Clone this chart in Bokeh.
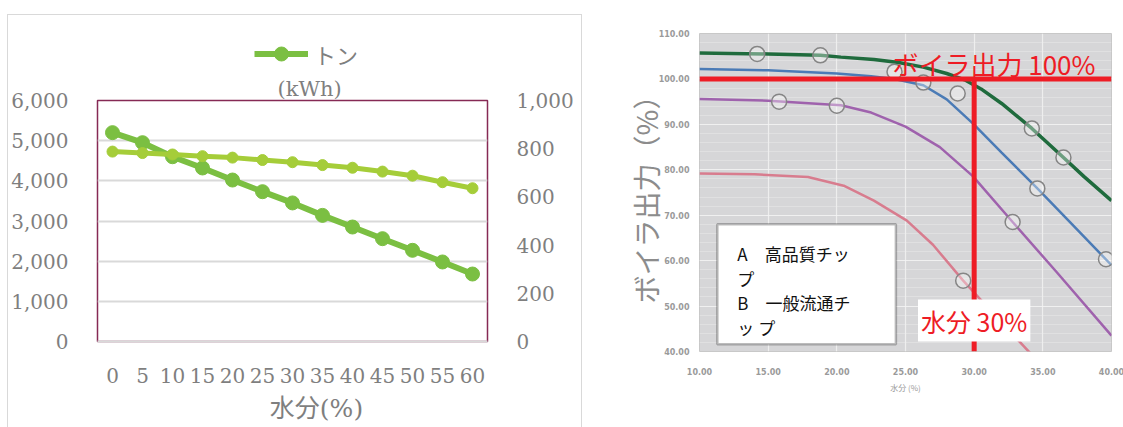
from bokeh.embed import file_html
from bokeh.layouts import column, row
from bokeh.models import (BoxAnnotation, FactorRange, FixedTicker, Label, Legend,
                          LegendItem, LinearAxis, NumeralTickFormatter,
                          PrintfTickFormatter, Range1d, Span, Title)
from bokeh.plotting import figure
from bokeh.resources import INLINE

# ---------------- left chart: values against moisture content ----------------
moisture_pct = ["0", "5", "10", "15", "20", "25", "30", "35", "40", "45", "50", "55", "60"]
series_left = [5200, 4950, 4600, 4320, 4020, 3730, 3450, 3140, 2850, 2560, 2270, 1980, 1680]
series_right = [788, 782, 776, 769, 763, 753, 744, 732, 721, 705, 688, 661, 636]
left_axis_ticks = [0, 1000, 2000, 3000, 4000, 5000, 6000]
right_axis_ticks = [0, 200, 400, 600, 800, 1000]
legend_label = "トン"
left_axis_unit = "(kWh)"
left_x_title = "水分(%)"

# ---------------- right chart: boiler output against moisture ----------------
green_x = [10, 15, 18.8, 20.3, 22.7, 24.5, 26.3, 28, 29.3, 30.5, 32, 34.2, 36.5, 38, 40]
green_y = [105.7, 105.5, 105.2, 104.8, 104.3, 103.6, 102.6, 101.2, 99.8, 97.8, 94.6, 89.1, 82.7, 78.5, 73.2]
blue_x = [10, 15, 20, 22.5, 24.2, 26.3, 28, 29.9, 32, 34.6, 37.1, 40]
blue_y = [102.2, 101.9, 101.2, 100.6, 100.0, 98.6, 95.5, 90.2, 83.8, 75.9, 68.1, 59.0]
purple_x = [10, 15, 20.3, 22.5, 25, 27.5, 29.9, 32.8, 36, 40]
purple_y = [95.6, 95.2, 94.2, 92.6, 89.5, 85.0, 78.6, 68.5, 57.5, 43.5]
pink_x = [10, 14, 17.9, 20.5, 22.7, 25.1, 27, 29.2, 31.5, 34, 35]
pink_y = [79.2, 79.0, 78.4, 76.5, 73.2, 68.8, 63.5, 55.6, 48.0, 39.9, 36.5]

# measured points marked on the curves
green_pts_x = [14.2, 18.8, 34.2, 36.5]
green_pts_y = [105.5, 105.2, 89.1, 82.7]
blue_pts_x = [24.2, 26.3, 28.8, 34.6, 39.6]
blue_pts_y = [101.6, 99.2, 96.8, 75.9, 60.3]
purple_pts_x = [15.8, 20.0, 32.8]
purple_pts_y = [95.0, 94.1, 68.5]
pink_pts_x = [29.2]
pink_pts_y = [55.6]

moisture_ticks = [10, 15, 20, 25, 30, 35, 40]
output_ticks = [40, 50, 60, 70, 80, 90, 100, 110]
output_minor = list(range(40, 111, 2))
rated_output = 100      # boiler output 100 %
target_moisture = 30    # moisture 30 %
output_floor = 40
output_top = 110

key_lines = ["A　高品質チッ", "プ", "B　一般流通チ", "ッ プ"]
rated_label = "ボイラ出力 100%"
moisture_label = "水分 30%"
right_y_title = "ボイラ出力（%）"
right_x_title = "水分 (%)"

GREY = "#7f7f7f"
SERIF = "DejaVu Serif, Noto Sans CJK JP"
SANS_JP = "Noto Sans CJK JP"
DARK_GREEN = "#7bbf42"
LIGHT_GREEN = "#a5cd39"
RED = "#ee1c25"
PANEL_W = 573


def text_strip(height):
    """A bare canvas (no axes, no grid) used for the captions around the left chart."""
    f = figure(width=PANEL_W, height=height, x_range=Range1d(0, 1), y_range=Range1d(0, 1),
               x_axis_type=None, y_axis_type=None, output_backend="svg",
               toolbar_location=None, frame_align=False, min_border=0)
    f.outline_line_color = None
    f.background_fill_color = "white"
    f.border_fill_color = "white"
    f.grid.grid_line_color = None
    return f


# ======================= left chart =======================
header = text_strip(59)
footer = text_strip(41)

main = figure(width=PANEL_W, height=313,
              x_range=FactorRange(*moisture_pct), y_range=Range1d(0, 6000),
              output_backend="svg", toolbar_location=None, frame_align=False,
              min_border_left=88, min_border_right=94, min_border_top=14, min_border_bottom=46)
main.extra_y_ranges = {"ton": Range1d(0, 1000)}
main.background_fill_color = "white"
main.border_fill_color = "white"
main.outline_line_color = "#862a55"
main.outline_line_width = 1.5

# unit caption sits directly on top of the plot area
main.title.text = left_axis_unit
main.title.align = "left"
main.title.offset = 180
main.title.standoff = 0
main.title.text_font = SERIF
main.title.text_font_size = "21px"
main.title.text_font_style = "normal"
main.title.text_color = GREY

main.yaxis.ticker = FixedTicker(ticks=left_axis_ticks)
main.yaxis.formatter = NumeralTickFormatter(format="0,0")
main.add_layout(LinearAxis(y_range_name="ton", ticker=FixedTicker(ticks=right_axis_ticks),
                           formatter=NumeralTickFormatter(format="0,0")), "right")

for ax in main.yaxis:
    ax.axis_line_color = None
    ax.major_tick_line_color = None
    ax.minor_tick_line_color = None
    ax.major_label_text_font = SERIF
    ax.major_label_text_font_size = "20px"
    ax.major_label_text_color = GREY
    ax.major_label_standoff = 23

xa = main.xaxis[0]
xa.axis_line_color = "#d9d9d9"
xa.axis_line_width = 2
xa.major_tick_line_color = None
xa.minor_tick_line_color = None
xa.major_label_text_font = SERIF
xa.major_label_text_font_size = "20px"
xa.major_label_text_color = GREY
xa.major_label_standoff = 20

main.xgrid.grid_line_color = None
main.ygrid.ticker = FixedTicker(ticks=left_axis_ticks)
main.ygrid.grid_line_color = "#d9d9d9"
main.ygrid.grid_line_width = 2

main.line(moisture_pct, series_left, line_width=6, color=DARK_GREEN)
main.scatter(moisture_pct, series_left, size=14, color=DARK_GREEN)
main.line(moisture_pct, series_right, y_range_name="ton", line_width=5, color=LIGHT_GREEN)
main.scatter(moisture_pct, series_right, y_range_name="ton", size=11, color=LIGHT_GREEN)

# legend swatch styled like the darker series (its points lie outside the strip's range)
key_line = header.line(x=[-1, -2], y=[-1, -2], line_width=6, color=DARK_GREEN)
key_dot = header.scatter(x=[-1], y=[-1], size=14, color=DARK_GREEN)
header.add_layout(Legend(items=[LegendItem(label=legend_label, renderers=[key_line, key_dot])],
                         location=(246, 3), orientation="horizontal",
                         border_line_color=None, background_fill_alpha=0,
                         padding=0, margin=0, spacing=0,
                         glyph_width=54, glyph_height=35, label_standoff=6, label_height=20,
                         label_text_font=SANS_JP, label_text_font_size="22px",
                         label_text_color=GREY))
footer.add_layout(Label(x=308, y=20, x_units="screen", y_units="screen", text=left_x_title,
                        text_align="center", text_baseline="middle",
                        text_font=SERIF, text_font_size="25px", text_color=GREY))

left_panel = column(header, main, footer, margin=(14, 0, 0, 7),
                    styles={"border-top": "1px solid #d9d9d9",
                            "border-left": "1px solid #d9d9d9",
                            "border-right": "1px solid #d9d9d9"})

# ======================= right chart =======================
right = figure(width=543, height=427,
               x_range=Range1d(10, 40), y_range=Range1d(output_floor, output_top),
               output_backend="svg", toolbar_location=None, frame_align=False,
               min_border_left=117, min_border_right=14, min_border_top=33, min_border_bottom=76)
right.background_fill_color = "#d6d6d8"
right.border_fill_color = "white"
right.outline_line_color = "#c8c8c8"

right.xaxis.ticker = FixedTicker(ticks=moisture_ticks)
right.yaxis.ticker = FixedTicker(ticks=output_ticks, minor_ticks=output_minor)
for ax in (right.xaxis[0], right.yaxis[0]):
    ax.formatter = PrintfTickFormatter(format="%.2f")
    ax.axis_line_color = None
    ax.major_tick_line_color = None
    ax.minor_tick_line_color = None
    ax.major_label_text_font = "DejaVu Sans"
    ax.major_label_text_font_style = "bold"
    ax.major_label_text_font_size = "8px"
    ax.major_label_text_color = "#9a9a9a"
right.yaxis.major_label_standoff = 4
right.xaxis.major_label_standoff = 10
right.xaxis.axis_label = right_x_title
right.xaxis.axis_label_text_font = SANS_JP
right.xaxis.axis_label_text_font_size = "8px"
right.xaxis.axis_label_text_font_style = "normal"
right.xaxis.axis_label_text_color = "#9a9a9a"
right.xaxis.axis_label_standoff = 4

right.add_layout(Title(text=right_y_title, align="center", offset=-40, standoff=-20,
                       text_font=SANS_JP, text_font_size="28px", text_font_style="normal",
                       text_color="#8c8c8c"), "left")

right.xgrid.grid_line_color = "#f4f4f4"
right.xgrid.grid_line_alpha = 0.8
right.xgrid.grid_line_width = 1.2
right.ygrid.grid_line_color = "#f4f4f4"
right.ygrid.grid_line_alpha = 0.8
right.ygrid.grid_line_width = 1.2
right.ygrid.minor_grid_line_color = "#eeeeee"
right.ygrid.minor_grid_line_alpha = 0.45

right.line(pink_x, pink_y, color="#d87c8e", line_width=2.5)
right.line(purple_x, purple_y, color="#9f62ad", line_width=2.5)
right.line(blue_x, blue_y, color="#4b7bb6", line_width=2.5)
right.line(green_x, green_y, color="#1f6b3d", line_width=3.5)

for xs, ys in ((green_pts_x, green_pts_y), (blue_pts_x, blue_pts_y),
               (purple_pts_x, purple_pts_y), (pink_pts_x, pink_pts_y)):
    right.scatter(xs, ys, size=15, marker="circle", line_color="#858585", line_width=1.5,
                  fill_color="white", fill_alpha=0.35)

right.add_layout(Span(location=rated_output, dimension="width", line_color=RED, line_width=5))
right.segment(x0=[target_moisture], y0=[rated_output], x1=[target_moisture], y1=[output_floor],
              line_color=RED, line_width=5)

# key box for the chip grades, one label per printed line
right.add_layout(BoxAnnotation(left=11.3, right=24.3, top=68.0, bottom=41.6,
                               fill_color="white", fill_alpha=1,
                               line_color="#222222", line_width=2.5))
for i, line_text in enumerate(key_lines):
    right.add_layout(Label(x=11.3, y=68.0, x_offset=20, y_offset=-29 - 24.7 * i,
                           text=line_text, text_align="left", text_baseline="middle",
                           text_font=SANS_JP, text_font_size="17px", text_color="#111111"))

right.add_layout(Label(x=40, y=rated_output, x_offset=-16, y_offset=15, text=rated_label,
                       text_align="right", text_baseline="alphabetic",
                       text_font=SANS_JP, text_font_size="26px", text_color=RED))
right.add_layout(Label(x=target_moisture, y=46.8, text=moisture_label,
                       text_align="center", text_baseline="middle",
                       background_fill_color="white", background_fill_alpha=1, padding=3,
                       text_font=SANS_JP, text_font_size="25px", text_color=RED))

page = row(left_panel, right)
open("out.html", "w").write(file_html(page, INLINE))
